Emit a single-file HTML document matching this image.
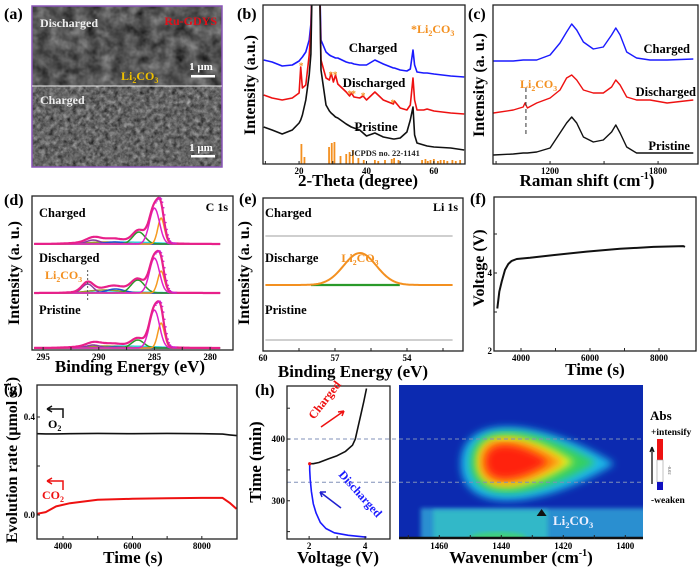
<!DOCTYPE html>
<html><head><meta charset="utf-8"><style>
html,body{margin:0;padding:0;background:#fff;}
svg{display:block;font-family:"Liberation Serif",serif;font-weight:bold;}
</style></head><body>
<svg id="fig" width="700" height="572" viewBox="0 0 700 572" xmlns="http://www.w3.org/2000/svg">
<defs>
<filter id="semTop" x="0" y="0" width="100%" height="100%" color-interpolation-filters="sRGB"><feTurbulence type="fractalNoise" baseFrequency="0.08" numOctaves="3" seed="3"/><feColorMatrix type="matrix" values="0.3 0.3 0.3 0 -0.12  0.3 0.3 0.3 0 -0.12  0.3 0.3 0.3 0 -0.12  0 0 0 0 1"/></filter>
<filter id="semBot" x="0" y="0" width="100%" height="100%" color-interpolation-filters="sRGB"><feTurbulence type="fractalNoise" baseFrequency="0.22" numOctaves="3" seed="7"/><feColorMatrix type="matrix" values="0.34 0.34 0.34 0 -0.12  0.34 0.34 0.34 0 -0.12  0.34 0.34 0.34 0 -0.12  0 0 0 0 1"/></filter>
<filter id="blur4"><feGaussianBlur stdDeviation="4"/></filter>
<filter id="blur2"><feGaussianBlur stdDeviation="2"/></filter>
<clipPath id="clipB"><rect x="263" y="5" width="202" height="159"/></clipPath>
<clipPath id="clipH"><rect x="399" y="385" width="244" height="154"/></clipPath>
</defs>

<!-- (a) -->
<g>
<text x="4" y="19" font-size="16">(a)</text>
<rect x="32" y="6" width="190" height="80" fill="#555"/>
<rect x="32" y="6" width="190" height="80" fill="#555" filter="url(#semTop)"/>
<rect x="32" y="86" width="190" height="81" fill="#666"/>
<rect x="32" y="86" width="190" height="81" fill="#666" filter="url(#semBot)"/>
<rect x="32" y="6" width="190" height="161" fill="none" stroke="#8a55b8" stroke-width="1.5"/>
<line x1="32" y1="86" x2="222" y2="86" stroke="#eee" stroke-width="1"/>
<text x="40" y="27" font-size="12" fill="#eee">Discharged</text>
<text x="217" y="25" font-size="12" fill="#e0101a" text-anchor="end">Ru-GDYS</text>
<text x="121" y="80" font-size="12" fill="#f0c000">Li<tspan font-size="8" dy="3">2</tspan><tspan dy="-3">CO</tspan><tspan font-size="8" dy="3">3</tspan></text>
<text x="201" y="70" font-size="11" fill="#fff" text-anchor="middle">1 μm</text>
<rect x="191" y="75" width="24" height="2.5" fill="#fff"/>
<text x="40" y="104" font-size="12" fill="#eee">Charged</text>
<text x="201" y="151" font-size="11" fill="#fff" text-anchor="middle">1 μm</text>
<rect x="191" y="155" width="24" height="2.5" fill="#fff"/>
</g>

<g id="plots"></g>
</svg>
<script>
// ---------- data ----------
// (b) XRD
const xrdTheta = [9.5,12,15,18,20,20.5,21,22,23,23.5,24,26,26.5,28,29,29.5,30.2,30.8,31.5,34,35,35.5,36.3,38,39,40,42.5,45,48,48.3,50,52,53,53.8,54.3,55,57,58,60,65,69];
const xrdCharged = [104,102,98,99,103,105,107,112,124,140,200,200,124,112,109,108,107,106,106,102,101,101,100,99,99,99,104,100,96,96,94,93,95,114,99,92,91,91,90,88,87];
const xrdDischarged = [69,66,64,66,71,97,76,79,109,134,200,200,104,86,84,91,82,89,80,72,68,71,67,66,68,64,72,64,60,63,56,54,59,86,64,54,54,55,53,51,50];
const xrdPristine = [37,34,30,34,41,44,49,64,89,110,200,200,94,59,53,51,49,47,46,40,38,37,36,34,31,28,31,27,25,25,26,32,44,57,29,21,19,18,17,16,14];
const jcpdsTheta = [20.7,21.6,28.9,29.7,30.5,32.3,34,35,36,37.6,39.2,42.5,43.5,45.5,47.5,48.2,49.5,56.5,57.5,58.2,59,60,61.2,62,63,64,65.5,66.5,67.8];
const jcpdsHeight = [20,7,17,21,22,8,10,12,14,6,4,4,3,4,5,6,4,4,5,3,4,5,3,4,4,3,4,3,4];
const starTheta = [20.6,29.4,30.7,35.0,36.2,39.0,47.8];
const starLevel = [96,87,87,68,68,66,59];
// (c) Raman
const ramanShift = [885,996,1051,1061,1074,1126,1200,1255,1292,1320,1348,1385,1440,1496,1542,1565,1589,1626,1681,1755,1850,1996];
const ramanCharged = [103,103,104,104,104,104,109,121,132,140,134,122,115,117,129,136,129,112,106,104,104,105];
const ramanDischarged = [51,54,57,61,56,61,66,74,86,89,84,74,71,71,77,84,79,67,64,64,61,64];
const ramanPristine = [9,10,11,11,11,12,16,31,41,47,41,27,22,24,32,39,31,17,11,11,11,11];
// (d) C 1s fit components per spectrum: center(eV), height(px), sigma(eV)
const c1sColors = ["#e020c8","#f59a20","#2a9a2a","#2050d0","#8a3aa0","#9a9a30","#30d0e0"];
const chargedCenters = [285.0,284.4,286.4,288.6,290.5,289.5,288.0];
const chargedHeights = [36,26,12,2,4,2,2];
const chargedSigmas = [0.45,0.3,0.55,0.8,0.6,1.5,3.0];
const dischargedCenters = [285.0,284.4,286.5,288.5,291.0,289.5,288.0];
const dischargedHeights = [35,22,13,4,9,3,1];
const dischargedSigmas = [0.45,0.3,0.6,0.8,0.5,1.5,3.0];
const pristineCenters = [285.0,284.4,286.5,288.6,290.5,289.5,288.0];
const pristineHeights = [38,25,8,1,3,2,2];
const pristineSigmas = [0.45,0.3,0.55,0.8,0.6,1.5,3.0];
// (e) Li 1s
const li1sCenter = [55.96];
const li1sHeight = [32];
const li1sSigma = [0.68];
// (f) voltage profile
const fTime = [3313,3371,3439,3535,3632,3729,3874,4260,4937,5903,6870,7836,8705,8754];
const fVolt = [3.09,3.52,3.78,4.08,4.23,4.31,4.36,4.39,4.46,4.55,4.62,4.67,4.69,4.67];
// (g) gas evolution
const gTime = [3250,3500,3800,4200,5000,6000,7000,8000,8600,8800,9000];
const gO2 = [0.332,0.331,0.331,0.332,0.333,0.332,0.333,0.332,0.330,0.327,0.324];
const gCO2 = [0.005,0.012,0.035,0.048,0.062,0.066,0.068,0.070,0.070,0.050,0.025];
// (h) voltage vs time
const hDisV = [4.05,3.4,2.9,2.6,2.4,2.25,2.15,2.08,2.04,2.02,2.02];
const hDisT = [241,244,248,255,265,280,295,315,335,350,360];
const hChV = [2.02,2.15,2.35,2.7,3.0,3.3,3.55,3.65,3.75,3.85,3.95,4.05];
const hChT = [360,360,362,368,373,380,390,400,420,440,460,482];
// heatmap blob layers: wavenumber center, time center, half-width (cm-1), half-height (min)
const blobColors = ["#1ab8e8","#34d060","#e8f020","#ff9010","#ff2010"];
const blobWn = [1431,1432,1434,1435,1436];
const blobTime = [360,362,363,363,363];
const blobHw = [22,18,14,12,9];
const blobHh = [66,55,46,40,30];
const dashTimes = [400,330];

// ---------- helpers ----------
const NS = "http://www.w3.org/2000/svg";
const root = document.getElementById("plots");
function mk(tag, attrs, parent){
  const el = document.createElementNS(NS, tag);
  for (const k in attrs) el.setAttribute(k, attrs[k]);
  (parent||root).appendChild(el);
  return el;
}
function poly(xs, ys, sx, sy, color, w, name, parent, extra){
  let d = "";
  for (let i=0;i<xs.length;i++) d += (i?"L":"M")+sx(xs[i]).toFixed(1)+","+sy(ys[i]).toFixed(1);
  const el = mk("path", Object.assign({d:d, fill:"none", stroke:color, "stroke-width":w, "stroke-linejoin":"round"}, extra||{}), parent);
  
  
  return el;
}
function txt(x,y,s,size,opts,name){
  const el = mk("text", Object.assign({x:x,y:y,"font-size":size}, opts||{}));
  el.textContent = s;
  
  
  return el;
}
function li2co3(x,y,size,color,anchor,name){
  const el = mk("text",{x:x,y:y,"font-size":size,fill:color,"text-anchor":anchor||"start"});
  el.innerHTML = 'Li<tspan font-size="'+(size*0.65)+'" dy="3">2</tspan><tspan dy="-3">CO</tspan><tspan font-size="'+(size*0.65)+'" dy="3">3</tspan>';
  
  
  return el;
}
function box(x,y,w,h,name){
  const el = mk("rect",{x:x,y:y,width:w,height:h,fill:"none",stroke:"#222","stroke-width":1.3});
  
  
}
function xticks(vals, sx, yb, labels, name, len){
  vals.forEach((v,i)=>{
    const t = mk("line",{x1:sx(v),x2:sx(v),y1:yb,y2:yb-(len||3),stroke:"#222","stroke-width":1});
    
    
    if (labels && labels[i]!==null && labels[i]!==undefined) txt(sx(v), yb+10, labels[i], 9, {"text-anchor":"middle"}, name+'-tick-label');
  });
}
function yticks(vals, sy, xl, labels, name){
  vals.forEach((v,i)=>{
    const t = mk("line",{x1:xl,x2:xl+3,y1:sy(v),y2:sy(v),stroke:"#222","stroke-width":1});
    
    
    if (labels && labels[i]!==null && labels[i]!==undefined) txt(xl-2, sy(v)+3, labels[i], 9, {"text-anchor":"end"}, name+'-tick-label');
  });
}
function ytitle(x,cy,s,name,size){
  const el = txt(x,cy,s,size||17,{"text-anchor":"middle",transform:"rotate(-90 "+x+" "+cy+")"},name);
  return el;
}
function gauss(x,c,h,s){return h*Math.exp(-0.5*((x-c)/s)*((x-c)/s));}

// ---------- (b) XRD ----------
{
  const sx = t => 263 + (t-9.3)*3.37;
  const sy = I => 164 - I;
  const g = mk("g",{"clip-path":"url(#clipB)"});
  
  
  poly(xrdTheta, xrdCharged, sx, sy, "#1a1aff", 1.6, "xrd-charged-line", g);
  poly(xrdTheta, xrdDischarged, sx, sy, "#ee1111", 1.6, "xrd-discharged-line", g);
  poly(xrdTheta, xrdPristine, sx, sy, "#111", 1.6, "xrd-pristine-line", g);
  jcpdsTheta.forEach((t,i)=>{
    const r = mk("rect",{x:sx(t)-0.9,y:sy(jcpdsHeight[i]),width:1.8,height:jcpdsHeight[i],fill:"#f39020"}, g);
    
    
  });
  starTheta.forEach((t,i)=>{
    txt(sx(t), sy(starLevel[i])+1, "*", 9, {"text-anchor":"middle",fill:"#f39020"}, "li2co3-star-marker");
  });
  box(263,5,202,159,"xrd-axes-frame");
  xticks([10,20,30,40,50,60], sx, 164, ["",20,"",40,"",60], "xrd-x");
  txt(237,19,"(b)",16,{}, "panel-label-b");
  txt(373,52,"Charged",13,{"text-anchor":"middle"},"xrd-charged-label");
  txt(374,87,"Discharged",13,{"text-anchor":"middle"},"xrd-discharged-label");
  txt(376,131,"Pristine",13,{"text-anchor":"middle"},"xrd-pristine-label");
  txt(385,156,"JCPDS no. 22-1141",8.5,{"text-anchor":"middle",fill:"#222"},"jcpds-label");
  const st = mk("text",{x:411,y:33,"font-size":12,fill:"#f39020"});
  st.innerHTML='*Li<tspan font-size="8" dy="3">2</tspan><tspan dy="-3">CO</tspan><tspan font-size="8" dy="3">3</tspan>';
  
  
  ytitle(255,85,"Intensity (a.u.)","xrd-y-axis-title",16);
  txt(358,186,"2-Theta (degree)",17,{"text-anchor":"middle"},"xrd-x-axis-title");
}

// ---------- (c) Raman ----------
{
  const sx = c => 493 + (c-883)*0.18;
  const sy = I => 164 - I;
  poly(ramanShift, ramanCharged, sx, sy, "#1a1aff", 1.4, "raman-charged-line");
  poly(ramanShift, ramanDischarged, sx, sy, "#ee1111", 1.4, "raman-discharged-line");
  poly(ramanShift, ramanPristine, sx, sy, "#111", 1.4, "raman-pristine-line");
  const dl = mk("line",{x1:sx(1066),x2:sx(1066),y1:88,y2:137,stroke:"#333","stroke-width":1,"stroke-dasharray":"4,3"});
  
  
  box(493,5,205,159,"raman-axes-frame");
  xticks([900,1200,1500,1800], sx, 164, [null,1200,null,1800], "raman-x");
  txt(468,19,"(c)",16,{}, "panel-label-c");
  txt(690,53,"Charged",12.5,{"text-anchor":"end"},"raman-charged-label");
  txt(696,96,"Discharged",12.5,{"text-anchor":"end"},"raman-discharged-label");
  txt(690,150,"Pristine",12.5,{"text-anchor":"end"},"raman-pristine-label");
  li2co3(520,88,12,"#f39020","start","raman-li2co3-label");
  ytitle(484,85,"Intensity (a. u.)","raman-y-axis-title",16);
  const t = mk("text",{x:587,y:186,"font-size":17,"text-anchor":"middle"});
  t.innerHTML='Raman shift (cm<tspan font-size="10" dy="-7">-1</tspan><tspan dy="7">)</tspan>';
  
  
}

// ---------- (d) C 1s ----------
{
  const sx = e => 32 + (296-e)*11.13;
  const specs = [
    {base:244, c:chargedCenters, h:chargedHeights, s:chargedSigmas, n:"charged"},
    {base:293, c:dischargedCenters, h:dischargedHeights, s:dischargedSigmas, n:"discharged"},
    {base:348, c:pristineCenters, h:pristineHeights, s:pristineSigmas, n:"pristine"}
  ];
  const es = [];
  for (let e=295.8; e>=279; e-=0.1) es.push(+e.toFixed(2));
  specs.forEach(sp=>{
    const sy = v => sp.base - v;
    const env = es.map(e=>{let s=0; for(let k=0;k<sp.c.length;k++) s+=gauss(e,sp.c[k],sp.h[k],sp.s[k]); return s;});
    for (let k=sp.c.length-1;k>=0;k--){
      const vals = es.map(e=>gauss(e,sp.c[k],sp.h[k],sp.s[k]));
      poly(es, vals, sx, sy, c1sColors[k], 1.5, "c1s-"+sp.n+"-component");
    }
    poly(es, env, sx, sy, "#e8208a", 2.2, "c1s-"+sp.n+"-envelope");
    es.forEach((e,i)=>{
      if (e<=285.0 && e>=283.2){
        const d = mk("circle",{cx:sx(e)+1.5,cy:sy(env[i]),r:0.8,fill:"#d020d0"});
        
        
      }
    });
  });
  const dl = mk("line",{x1:sx(291),x2:sx(291),y1:270,y2:302,stroke:"#555","stroke-width":1,"stroke-dasharray":"2,2"});
  
  
  box(32,196,201,154,"c1s-axes-frame");
  xticks([295,292.5,290,287.5,285,282.5,280], sx, 350, [295,null,290,null,285,null,280], "c1s-x");
  txt(4,205,"(d)",16,{}, "panel-label-d");
  txt(39,217,"Charged",12.5,{},"c1s-charged-label");
  txt(228,211,"C 1s",12,{"text-anchor":"end"},"c1s-title");
  txt(39,262,"Discharged",12.5,{},"c1s-discharged-label");
  li2co3(45,279,12,"#f39020","start","c1s-li2co3-label");
  txt(39,314,"Pristine",12.5,{},"c1s-pristine-label");
  ytitle(19,273,"Intensity (a. u.)","c1s-y-axis-title",16);
  txt(130,372,"Binding Energy (eV)",17,{"text-anchor":"middle"},"c1s-x-axis-title");
}

// ---------- (e) Li 1s ----------
{
  const sx = e => 263 + (60-e)*24;
  const es = [];
  for (let e=59.9; e>=52.1; e-=0.05) es.push(+e.toFixed(2));
  const flatC = es.map(()=>0), flatP = es.map(()=>0);
  poly(es, flatC, sx, v=>236-v, "#c8c8c8", 1.8, "li1s-charged-line");
  poly(es, flatP, sx, v=>340-v, "#c8c8c8", 1.8, "li1s-pristine-line");
  const ge = es.filter(e=>e<=58.0 && e>=54.3);
  poly(ge, ge.map(()=>0), sx, v=>285-v, "#2a9a2a", 2.2, "li1s-baseline-fit");
  const fit = es.map(e=>gauss(e,li1sCenter[0],li1sHeight[0],li1sSigma[0]));
  poly(es, fit, sx, v=>285-v, "#f39020", 2, "li1s-li2co3-peak");
  box(263,198,200,153,"li1s-axes-frame");
  xticks([60,58.5,57,55.5,54,52.5], sx, 351, [60,null,57,null,54,null], "li1s-x");
  txt(239,204,"(e)",16,{}, "panel-label-e");
  txt(265,217,"Charged",12.5,{},"li1s-charged-label");
  txt(458,211,"Li 1s",12,{"text-anchor":"end"},"li1s-title");
  txt(265,262,"Discharge",12.5,{},"li1s-discharge-label");
  li2co3(360,262,12,"#f39020","middle","li1s-li2co3-label");
  txt(265,314,"Pristine",12.5,{},"li1s-pristine-label");
  ytitle(249,273,"Intensity (a. u.)","li1s-y-axis-title",16);
  txt(353,377,"Binding Energy (eV)",17,{"text-anchor":"middle"},"li1s-x-axis-title");
}

// ---------- (f) Voltage ----------
{
  const sx = t => 494 + (t-3217)*0.0345;
  const sy = v => 351 - (v-2)*39;
  poly(fTime, fVolt, sx, sy, "#111", 2, "voltage-time-line");
  box(494,197,202,154,"voltage-axes-frame");
  xticks([4000,5000,6000,7000,8000], sx, 351, [4000,null,6000,null,8000], "voltage-x");
  yticks([2,3,4,5], sy, 494, [2,null,4,null], "voltage-y");
  txt(470,204,"(f)",16,{}, "panel-label-f");
  ytitle(484,268,"Voltage (V)","voltage-y-axis-title",16);
  txt(595,375,"Time (s)",17,{"text-anchor":"middle"},"voltage-x-axis-title");
}

// ---------- (g) gas evolution ----------
{
  const sx = t => 37 + (t-3250)*0.0347;
  const sy = v => 515 - v*245;
  poly(gTime, gO2, sx, sy, "#111", 1.6, "o2-evolution-line");
  poly(gTime, gCO2, sx, sy, "#ee1111", 2, "co2-evolution-line");
  box(37,385,200,154,"gas-axes-frame");
  xticks([4000,5000,6000,7000,8000], sx, 539, [4000,null,6000,null,8000], "gas-x");
  yticks([0.0,0.2,0.4], sy, 37, ["0.0",null,"0.4"], "gas-y");
  txt(4,394,"(g)",16,{}, "panel-label-g");
  const a1 = mk("path",{d:"M47,409 L63,409 L63,418 M47,409 l5,-3 M47,409 l5,3",fill:"none",stroke:"#111","stroke-width":1.5});
  
  
  const o2 = mk("text",{x:48,y:428,"font-size":12});
  o2.innerHTML='O<tspan font-size="8" dy="3">2</tspan>';
  
  
  const a2 = mk("path",{d:"M47,481 L63,481 L63,490 M47,481 l5,-3 M47,481 l5,3",fill:"none",stroke:"#ee1111","stroke-width":1.5});
  
  
  const co2 = mk("text",{x:42,y:499,"font-size":12,fill:"#ee1111"});
  co2.innerHTML='CO<tspan font-size="8" dy="3">2</tspan>';
  
  
  const yt = mk("text",{x:17,y:460,"font-size":16,"text-anchor":"middle",transform:"rotate(-90 17 460)"});
  yt.innerHTML='Evolution rate (μmol s<tspan font-size="10" dy="-6">-1</tspan><tspan dy="6">)</tspan>';
  
  
  txt(133,563,"Time (s)",17,{"text-anchor":"middle"},"gas-x-axis-title");
}

// ---------- (h) in-situ ----------
{
  const sx = v => 287 + (v-1.21)*28;
  const sy = t => 386 + (486-t)*0.617;
  const hx = w => 399 + (1473-w)*3.1;
  const hm = mk("g",{"clip-path":"url(#clipH)"});
  
  
  const bg = mk("rect",{x:399,y:385,width:244,height:154,fill:"#0c2ab0"}, hm);
  
  
  const band = mk("rect",{x:hx(1466),y:sy(288),width:hx(1394)-hx(1466)+10,height:sy(238)-sy(288)+4,fill:"#2a8fd0",filter:"url(#blur2)"}, hm);
  
  
  const band2 = mk("rect",{x:hx(1462),y:sy(285),width:hx(1425)-hx(1462),height:sy(238)-sy(285)+4,fill:"#30b8c8",filter:"url(#blur2)"}, hm);
  
  
  const spot = mk("ellipse",{cx:hx(1441),cy:sy(240),rx:28,ry:6,fill:"#40d080",filter:"url(#blur2)"}, hm);
  
  
  blobColors.forEach((c,i)=>{
    const cx = hx(blobWn[i]), cy = sy(blobTime[i]);
    const rx = blobHw[i]*3.1, ry = blobHh[i]*0.617;
    const d = "M"+(cx-rx)+","+cy+" C"+(cx-rx)+","+(cy-ry*1.3)+" "+(cx+rx*0.2)+","+(cy-ry*1.1)+" "+(cx+rx*1.25)+","+cy+" C"+(cx+rx*0.2)+","+(cy+ry*1.1)+" "+(cx-rx)+","+(cy+ry*1.3)+" "+(cx-rx)+","+cy+"Z";
    const el = mk("path",{d:d,fill:c,filter:"url(#blur4)"}, hm);
    
    
  });
  dashTimes.forEach(t=>{
    const l = mk("line",{x1:287,x2:643,y1:sy(t),y2:sy(t),stroke:"#8090b8","stroke-width":1,"stroke-dasharray":"4,3"});
    
    
  });
  poly(hDisV, hDisT, sx, sy, "#1a1aff", 1.6, "discharge-voltage-line");
  poly(hChV, hChT, sx, sy, "#111", 1.6, "charge-voltage-line");
  const dot = mk("circle",{cx:sx(2.02),cy:sy(360),r:1.6,fill:"#ee1111"});
  
  
  box(287,386,103,153,"voltage-time-axes-frame");
  xticks([2,3,4], sx, 539, [2,null,4], "h-voltage-x");
  yticks([250,300,350,400,450], sy, 287, [null,300,null,400,null], "h-time-y");
  const ax = mk("line",{x1:399,x2:643,y1:538,y2:538,stroke:"#111","stroke-width":2.5});
  
  
  xticks([1470,1460,1450,1440,1430,1420,1410,1400], hx, 539, [null,1460,null,1440,null,1420,null,1400], "heatmap-x", 4);
  const tri = mk("path",{d:"M"+(hx(1427)-5)+",516 L"+(hx(1427)+5)+",516 L"+hx(1427)+",509 Z",fill:"#111"});
  
  
  li2co3(553,525,13,"#f0f0ff","start","heatmap-li2co3-label");
  const ca = mk("path",{d:"M321,427 L344,411 M344,411 l-6,1 M344,411 l-2,5",fill:"none",stroke:"#ee1111","stroke-width":1.5});
  
  
  txt(314,420,"Charged",12,{fill:"#ee1111",transform:"rotate(-52 314 420)"},"charged-label");
  const da = mk("path",{d:"M341,508 L320,492 M320,492 l2,5 M320,492 l6,0",fill:"none",stroke:"#2020d0","stroke-width":1.5});
  
  
  txt(338,475,"Discharged",12,{fill:"#1a1aff",transform:"rotate(48 338 475)"},"discharged-label");
  txt(255,395,"(h)",16,{}, "panel-label-h");
  ytitle(261,462,"Time (min)","h-y-axis-title",17);
  txt(338,563,"Voltage (V)",17,{"text-anchor":"middle"},"h-x-axis-title");
  const wt = mk("text",{x:521,y:563,"font-size":17,"text-anchor":"middle"});
  wt.innerHTML='Wavenumber (cm<tspan font-size="10" dy="-7">-1</tspan><tspan dy="7">)</tspan>';
  
  
  txt(650,420,"Abs",13,{},"colorbar-title");
  txt(651,435,"+intensify",9.5,{},"colorbar-top-label");
  txt(651,503,"-weaken",9.5,{},"colorbar-bottom-label");
  const cr = mk("rect",{x:657,y:439,width:6,height:21,fill:"#ee1111"});
  
  
  const cw = mk("rect",{x:657,y:460,width:6,height:22,fill:"#fff",stroke:"#999","stroke-width":0.6});
  
  
  const cb = mk("rect",{x:657,y:482,width:6,height:8,fill:"#1010c0"});
  
  
  const carr = mk("path",{d:"M652,484 L652,447 M652,447 l-2,5 M652,447 l2,5",fill:"none",stroke:"#111","stroke-width":1.3});
  
  
  txt(668,470,"-0.02",4.5,{fill:"#888",transform:"rotate(90 668 470)","text-anchor":"middle"},"colorbar-scale-label");
}
</script>
</body></html>
